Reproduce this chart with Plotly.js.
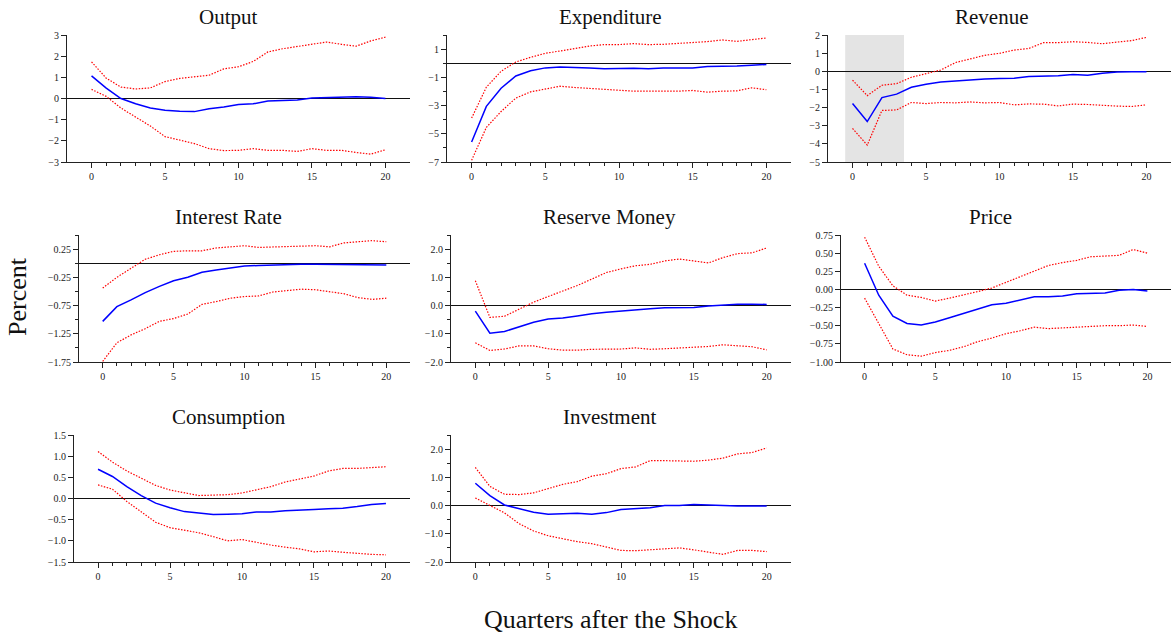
<!DOCTYPE html>
<html>
<head>
<meta charset="utf-8">
<script src="https://cdn.plot.ly/plotly-3.0.1.min.js"></script>
<style>
  html, body { margin: 0; padding: 0; background: #fff; }
  #chart { width: 1171px; height: 635px; }
</style>
</head>
<body>
<div id="chart"></div>
<script>
// Impulse responses to a fiscal shock: point estimate with upper/lower bands
const quarters = [0,1,2,3,4,5,6,7,8,9,10,11,12,13,14,15,16,17,18,19,20];

const outputIrf = [1.07,0.49,0.0,-0.25,-0.45,-0.55,-0.6,-0.62,-0.48,-0.4,-0.28,-0.25,-0.12,-0.08,-0.07,0.02,0.04,0.06,0.08,0.06,0.0];
const outputHi  = [1.73,0.96,0.54,0.45,0.5,0.8,0.95,1.04,1.1,1.4,1.5,1.75,2.2,2.35,2.45,2.55,2.67,2.56,2.47,2.72,2.9];
const outputLo  = [0.43,0.1,-0.45,-0.88,-1.3,-1.8,-1.95,-2.13,-2.37,-2.46,-2.45,-2.37,-2.45,-2.45,-2.5,-2.37,-2.45,-2.45,-2.55,-2.63,-2.42];

const expendIrf = [-5.58,-3.06,-1.77,-0.9,-0.54,-0.33,-0.26,-0.28,-0.33,-0.4,-0.35,-0.35,-0.4,-0.33,-0.33,-0.33,-0.24,-0.24,-0.19,-0.14,-0.09];
const expendHi  = [-3.89,-1.7,-0.57,0.09,0.42,0.7,0.87,1.06,1.22,1.32,1.32,1.39,1.32,1.34,1.39,1.48,1.53,1.65,1.55,1.67,1.79];
const expendLo  = [-6.88,-4.55,-3.42,-2.47,-2.03,-1.81,-1.63,-1.72,-1.79,-1.86,-1.93,-1.98,-1.98,-2.0,-1.98,-1.93,-2.05,-1.98,-1.96,-1.74,-1.88];

const revenueIrf = [-1.78,-2.77,-1.45,-1.26,-0.88,-0.71,-0.59,-0.53,-0.46,-0.42,-0.4,-0.38,-0.29,-0.27,-0.24,-0.18,-0.22,-0.11,-0.04,-0.02,-0.02];
const revenueHi  = [-0.49,-1.34,-0.77,-0.68,-0.33,-0.15,0.07,0.48,0.7,0.88,0.99,1.17,1.26,1.58,1.58,1.63,1.59,1.52,1.61,1.69,1.87];
const revenueLo  = [-3.15,-4.07,-2.16,-2.13,-1.72,-1.78,-1.72,-1.74,-1.69,-1.74,-1.72,-1.85,-1.8,-1.81,-1.91,-1.81,-1.83,-1.89,-1.92,-1.94,-1.85];

const rateIrf = [-1.03,-0.77,-0.65,-0.52,-0.41,-0.31,-0.25,-0.16,-0.12,-0.09,-0.05,-0.04,-0.03,-0.02,-0.02,-0.02,-0.02,-0.02,-0.02,-0.03,-0.03];
const rateHi  = [-0.44,-0.25,-0.09,0.07,0.15,0.21,0.22,0.22,0.27,0.29,0.31,0.28,0.29,0.29,0.31,0.31,0.29,0.36,0.38,0.4,0.38];
const rateLo  = [-1.74,-1.41,-1.27,-1.16,-1.03,-0.98,-0.9,-0.73,-0.68,-0.62,-0.59,-0.58,-0.51,-0.48,-0.46,-0.47,-0.51,-0.54,-0.61,-0.64,-0.62];

const reserveIrf = [-0.2,-0.98,-0.92,-0.75,-0.59,-0.48,-0.44,-0.37,-0.29,-0.24,-0.19,-0.14,-0.11,-0.08,-0.07,-0.07,-0.02,0.02,0.05,0.05,0.04];
const reserveHi  = [0.88,-0.42,-0.38,-0.14,0.12,0.32,0.51,0.71,0.94,1.17,1.3,1.41,1.46,1.58,1.65,1.58,1.51,1.7,1.84,1.87,2.04];
const reserveLo  = [-1.32,-1.59,-1.54,-1.43,-1.43,-1.53,-1.58,-1.58,-1.55,-1.55,-1.54,-1.5,-1.55,-1.53,-1.51,-1.47,-1.45,-1.39,-1.43,-1.46,-1.57];

const priceIrf = [0.36,-0.08,-0.37,-0.47,-0.49,-0.45,-0.39,-0.33,-0.27,-0.21,-0.19,-0.15,-0.1,-0.1,-0.09,-0.06,-0.06,-0.05,-0.01,0.0,-0.02];
const priceHi  = [0.72,0.32,0.05,-0.08,-0.11,-0.16,-0.12,-0.08,-0.03,0.02,0.1,0.17,0.25,0.33,0.37,0.4,0.45,0.46,0.47,0.55,0.5];
const priceLo  = [-0.12,-0.47,-0.82,-0.9,-0.92,-0.87,-0.84,-0.79,-0.72,-0.67,-0.61,-0.57,-0.52,-0.54,-0.53,-0.51,-0.51,-0.5,-0.5,-0.49,-0.51];

const consIrf = [0.69,0.52,0.28,0.07,-0.11,-0.22,-0.31,-0.35,-0.38,-0.37,-0.36,-0.32,-0.32,-0.29,-0.28,-0.26,-0.24,-0.23,-0.19,-0.14,-0.12];
const consHi  = [1.11,0.86,0.65,0.48,0.31,0.2,0.13,0.07,0.08,0.09,0.13,0.2,0.28,0.39,0.46,0.53,0.65,0.71,0.71,0.73,0.75];
const consLo  = [0.32,0.22,-0.07,-0.31,-0.56,-0.69,-0.75,-0.81,-0.9,-1.0,-0.97,-1.04,-1.1,-1.15,-1.19,-1.26,-1.24,-1.27,-1.3,-1.32,-1.33];

const investIrf = [0.79,0.35,0.02,-0.12,-0.24,-0.31,-0.29,-0.27,-0.31,-0.25,-0.14,-0.11,-0.08,0.0,0.0,0.04,0.01,0.0,-0.02,-0.02,-0.02];
const investHi  = [1.35,0.68,0.4,0.39,0.45,0.61,0.75,0.85,1.04,1.13,1.31,1.37,1.59,1.59,1.58,1.57,1.61,1.68,1.83,1.88,2.04];
const investLo  = [0.27,0.01,-0.26,-0.64,-0.9,-1.07,-1.18,-1.28,-1.35,-1.47,-1.59,-1.6,-1.57,-1.55,-1.5,-1.57,-1.64,-1.73,-1.59,-1.59,-1.63];

const panelTitles = ["Output","Expenditure","Revenue","Interest Rate","Reserve Money","Price","Consumption","Investment"];

// Layout of each panel in pixels: [left, right, top, bottom], plus title centre
const W = 1171, H = 635;
const panels = [
  {irf: outputIrf,  hi: outputHi,  lo: outputLo,  box: [67, 410, 35, 162],   tx: 228, y: {range: [-3, 3], dtick: 1, tick0: 0, fmt: "d"}},
  {irf: expendIrf,  hi: expendHi,  lo: expendLo,  box: [447, 791, 35, 162],  tx: 610, y: {range: [-7, 2], dtick: 2, tick0: 1, minor: 1, fmt: "d"}},
  {irf: revenueIrf, hi: revenueHi, lo: revenueLo, box: [828, 1171, 35, 162], tx: 991, y: {range: [-5, 2], dtick: 1, tick0: 0, fmt: "d"}},
  {irf: rateIrf,    hi: rateHi,    lo: rateLo,    box: [79, 410, 235, 362],  tx: 228, y: {range: [-1.75, 0.5], dtick: 0.5, tick0: 0.25, minor: 0.25, fmt: ".2f"}},
  {irf: reserveIrf, hi: reserveHi, lo: reserveLo, box: [451, 791, 235, 362], tx: 609, y: {range: [-2, 2.5], dtick: 1, tick0: 0, minor: 0.5, fmt: ".1f"}},
  {irf: priceIrf,   hi: priceHi,   lo: priceLo,   box: [841, 1171, 235, 362],tx: 990, y: {range: [-1, 0.75], dtick: 0.25, tick0: 0, fmt: ".2f"}},
  {irf: consIrf,    hi: consHi,    lo: consLo,    box: [74, 410, 435, 562],  tx: 229, y: {range: [-1.5, 1.5], dtick: 0.5, tick0: 0, fmt: ".1f"}},
  {irf: investIrf,  hi: investHi,  lo: investLo,  box: [451, 791, 435, 562], tx: 609, y: {range: [-2, 2.5], dtick: 1, tick0: 0, minor: 0.5, fmt: ".1f"}}
];

const serif = "Liberation Serif, Times New Roman, serif";
const axisColor = "#222";
const traces = [];
const layout = {
  width: W, height: H,
  margin: {l: 0, r: 0, t: 0, b: 0},
  paper_bgcolor: "#fff", plot_bgcolor: "#fff",
  showlegend: false,
  font: {family: serif, color: "#222", size: 10},
  annotations: [], shapes: []
};

panels.forEach((p, i) => {
  const n = i + 1;
  const xa = n === 1 ? "x" : "x" + n;
  const ya = n === 1 ? "y" : "y" + n;
  const [l, r, t, b] = p.box;

  [p.hi, p.lo].forEach(band => traces.push({
    x: quarters, y: band, xaxis: xa, yaxis: ya, type: "scatter", mode: "lines",
    line: {color: "#ff0000", width: 1.2, dash: "1.5px,1.5px"}, hoverinfo: "skip"
  }));
  traces.push({
    x: quarters, y: p.irf, xaxis: xa, yaxis: ya, type: "scatter", mode: "lines",
    line: {color: "#0000ff", width: 1.5}, hoverinfo: "skip"
  });

  layout["xaxis" + (n === 1 ? "" : n)] = {
    domain: [l / W, r / W], anchor: ya,
    range: [-1.67, 21.67], tick0: 0, dtick: 5,
    showgrid: false, zeroline: false,
    showline: true, linecolor: axisColor, linewidth: 1,
    ticks: "outside", ticklen: 5, tickwidth: 1, tickcolor: axisColor,
    minor: {tickmode: "array", tickvals: quarters, ticks: "outside", ticklen: 3, tickwidth: 1, tickcolor: axisColor, showgrid: false},
    tickfont: {family: serif, size: 10, color: "#222"}
  };
  const yax = {
    domain: [1 - b / H, 1 - t / H], anchor: xa,
    range: p.y.range, tick0: p.y.tick0, dtick: p.y.dtick, tickformat: p.y.fmt,
    showgrid: false,
    zeroline: true, zerolinecolor: "#111", zerolinewidth: 1.2,
    showline: true, linecolor: axisColor, linewidth: 1,
    ticks: "outside", ticklen: 5, tickwidth: 1, tickcolor: axisColor,
    tickfont: {family: serif, size: 10, color: "#222"}
  };
  if (p.y.minor) {
    yax.minor = {dtick: p.y.minor, tick0: p.y.tick0, ticks: "outside", ticklen: 3, tickwidth: 1, tickcolor: axisColor, showgrid: false};
  }
  layout["yaxis" + (n === 1 ? "" : n)] = yax;

  layout.annotations.push({
    text: panelTitles[i], xref: "paper", yref: "paper",
    x: p.tx / W, y: 1 - (t - 18) / H, xanchor: "center", yanchor: "middle",
    showarrow: false, font: {family: serif, size: 21, color: "#111"}
  });
});

// Shaded window over the first quarters of the revenue response
layout.shapes.push({
  type: "rect", xref: "x3", yref: "y3 domain",
  x0: -0.5, x1: 3.5, y0: 0, y1: 1,
  fillcolor: "#e4e4e4", line: {width: 0}, layer: "below"
});

layout.annotations.push({
  text: "Percent", xref: "paper", yref: "paper",
  x: 18 / W, y: 1 - 297 / H, xanchor: "center", yanchor: "middle", textangle: -90,
  showarrow: false, font: {family: serif, size: 26, color: "#111"}
});
layout.annotations.push({
  text: "Quarters after the Shock", xref: "paper", yref: "paper",
  x: 610 / W, y: 1 - 619 / H, xanchor: "center", yanchor: "middle",
  showarrow: false, font: {family: serif, size: 26, color: "#111"}
});

Plotly.newPlot("chart", traces, layout, {staticPlot: true, displayModeBar: false});
</script>
</body>
</html>
